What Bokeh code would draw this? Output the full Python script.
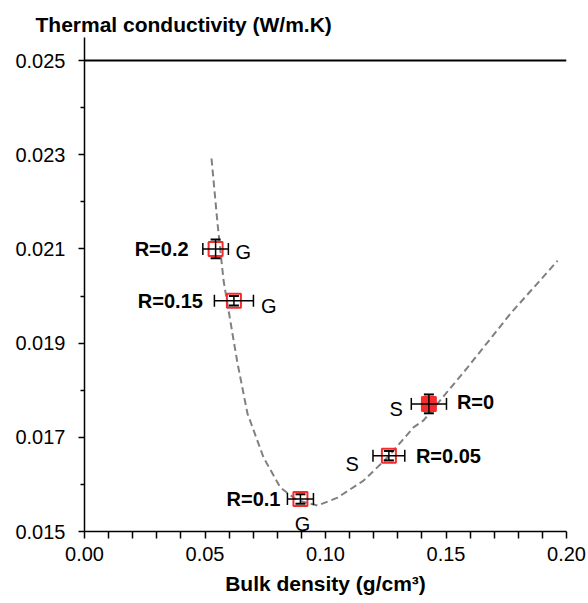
from bokeh.plotting import figure
from bokeh.models import Range1d, FixedTicker, NumeralTickFormatter, Span, Whisker, TeeHead, ColumnDataSource
from bokeh.core.properties import value
from bokeh.embed import file_html
from bokeh.resources import INLINE

# ---------------- data ----------------
sample = ["R=0", "R=0.05", "R=0.1", "R=0.15", "R=0.2"]
process = ["S", "S", "G", "G", "G"]
bulk_density = [0.1429, 0.1263, 0.0896, 0.0620, 0.0544]
conductivity = [0.01771, 0.01661, 0.01569, 0.01990, 0.02100]
density_err = [0.0073, 0.0066, 0.0054, 0.0081, 0.0053]
conductivity_err = [0.0002, 0.0001, 0.0001, 0.0001, 0.0002]

fit_density = [0.0527, 0.0552, 0.0577, 0.0614, 0.0635, 0.0676, 0.0743, 0.0813, 0.0884,
               0.0967, 0.1050, 0.1158, 0.1257, 0.1365, 0.1407, 0.1589, 0.1768, 0.1963]
fit_conductivity = [0.02292, 0.02154, 0.02033, 0.01920, 0.01857, 0.01751, 0.01657, 0.01593, 0.01566,
                    0.01555, 0.01572, 0.01608, 0.01657, 0.01721, 0.01736, 0.01848, 0.01963, 0.02075]

x_ticks = [0.0, 0.05, 0.10, 0.15, 0.20]
x_minor = [0.01, 0.02, 0.03, 0.04, 0.06, 0.07, 0.08, 0.09, 0.11, 0.12, 0.13, 0.14, 0.16, 0.17, 0.18, 0.19]
y_ticks = [0.015, 0.017, 0.019, 0.021, 0.023, 0.025]
y_minor = [0.016, 0.018, 0.020, 0.022, 0.024]
reference_line = 0.025

# ---------------- figure ----------------
FONT = "Liberation Sans"
RED = "#f42c2c"

p = figure(width=588, height=603,
           x_range=Range1d(0, 0.20), y_range=Range1d(0.015, 0.02549),
           output_backend="svg", toolbar_location=None,
           min_border_left=84, min_border_right=22, min_border_top=37, min_border_bottom=72)

p.title.text = "Thermal conductivity (W/m.K)"
p.title.align = "left"
p.title.offset = -49
p.title.standoff = 4
p.title.text_font = FONT
p.title.text_font_size = "21px"
p.title.text_font_style = "bold"
p.title.text_color = "black"

p.xgrid.grid_line_color = None
p.ygrid.grid_line_color = None
p.outline_line_color = None
p.background_fill_color = "white"
p.border_fill_color = "white"

xa = p.xaxis[0]
xa.ticker = FixedTicker(ticks=x_ticks, minor_ticks=x_minor)
xa.formatter = NumeralTickFormatter(format="0.00")
xa.axis_label = "Bulk density (g/cm\u00b3)"
xa.axis_label_text_font = FONT
xa.axis_label_text_font_size = "21px"
xa.axis_label_text_font_style = "bold"
xa.axis_label_text_color = "black"
xa.axis_label_standoff = 8
xa.major_label_text_font = FONT
xa.major_label_text_font_size = "20px"
xa.major_label_text_color = "black"
xa.major_label_standoff = 8
xa.major_tick_in = 0
xa.major_tick_out = 7
xa.minor_tick_in = 0
xa.minor_tick_out = 7
for a in (xa, p.yaxis[0]):
    a.axis_line_color = "black"
    a.axis_line_width = 1.5
    a.major_tick_line_color = "black"
    a.major_tick_line_width = 1.5
    a.minor_tick_line_color = "black"
    a.minor_tick_line_width = 1.5

ya = p.yaxis[0]
ya.ticker = FixedTicker(ticks=y_ticks, minor_ticks=y_minor)
ya.formatter = NumeralTickFormatter(format="0.000")
ya.major_label_text_font = FONT
ya.major_label_text_font_size = "20px"
ya.major_label_text_color = "black"
ya.major_label_standoff = 13
ya.major_tick_in = 0
ya.major_tick_out = 6
ya.minor_tick_in = 0
ya.minor_tick_out = 4

p.add_layout(Span(location=reference_line, dimension="width", line_color="black", line_width=2))

# fitted trend curve
p.line(fit_density, fit_conductivity, line_color="#808080", line_dash="7 4", line_width=2)

# error bars
src = ColumnDataSource(dict(
    x=bulk_density, y=conductivity,
    xl=[d - e for d, e in zip(bulk_density, density_err)],
    xu=[d + e for d, e in zip(bulk_density, density_err)],
    yl=[c - e for c, e in zip(conductivity, conductivity_err)],
    yu=[c + e for c, e in zip(conductivity, conductivity_err)],
    fa=[1.0 if s == "R=0" else 0.0 for s in sample],
))
wx = Whisker(source=src, base="y", lower="xl", upper="xu", dimension="width",
             line_color="black", line_width=1.5, level="glyph",
             upper_head=TeeHead(size=12, line_color="black", line_width=1.5),
             lower_head=TeeHead(size=12, line_color="black", line_width=1.5))
wy = Whisker(source=src, base="x", lower="yl", upper="yu", dimension="height",
             line_color="black", line_width=1.5, level="glyph",
             upper_head=TeeHead(size=10, line_color="black", line_width=2),
             lower_head=TeeHead(size=10, line_color="black", line_width=2))
p.add_layout(wx)
p.add_layout(wy)

p.scatter("x", "y", source=src, marker="square", size=14, line_color=RED, line_width=2,
          fill_color=RED, fill_alpha="fa")

# labels
def put(idx, texts, xo, yo, align, bold):
    p.text(x=[bulk_density[i] for i in idx], y=[conductivity[i] for i in idx],
           text=[texts[i] for i in idx], x_offset=xo, y_offset=yo,
           text_align=align, text_baseline="middle",
           text_font=value(FONT), text_font_size="20px",
           text_font_style="bold" if bold else "normal", text_color="black")

put([0, 1], sample, [28, 27], [-2, 0], "left", True)
put([2, 3, 4], sample, [-20, -31, -27], [0, 0, 0], "right", True)
put([0, 1], process, [-26, -30], [5, 8], "right", False)
put([3, 4], process, [27, 20], [5, 3], "left", False)
put([2], process, [2], [25], "center", False)

open("out.html", "w").write(file_html(p, INLINE))
